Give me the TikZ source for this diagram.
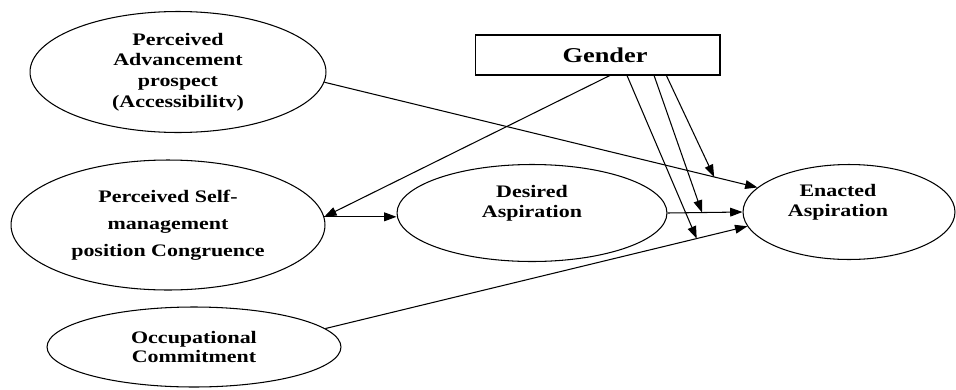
\documentclass[tikz,border=0pt]{standalone}
\usepackage{fontspec}
\setmainfont{Liberation Serif}[FakeStretch=1.25]
\usepackage{tikz}
\usetikzlibrary{shapes.geometric,positioning,calc}
\usetikzlibrary{arrows.meta}

\begin{document}
\begin{tikzpicture}[x=0.02cm,y=-0.02cm,>={Triangle[length=7pt,width=5pt]},line width=0.6pt,
	construct/.style={ellipse,draw,inner sep=0pt,align=center,font=\bfseries\fontsize{10}{11.7}\selectfont},
	inside/.style={align=center,font=\bfseries\fontsize{10}{11.3}\selectfont}]
	\useasboundingbox (0,0) rectangle (956,389);
	\node[construct,minimum width=5.92cm,minimum height=2.42cm] (adv) at (178,72) {Perceived\\Advancement\\prospect\\(Accessibilitv)};
	\node[construct,minimum width=6.28cm,minimum height=2.6cm,font=\bfseries\fontsize{10}{15.3}\selectfont] (selfm) at (168,225) {Perceived Self-\\management\\position Congruence};
	\node[construct,minimum width=5.88cm,minimum height=1.6cm,font=\bfseries\fontsize{10}{10.4}\selectfont] (occup) at (194,347) {Occupational\\Commitment};
	\node[construct,minimum width=5.4cm,minimum height=1.94cm,label={[inside,yshift=0.2cm]center:Desired\\Aspiration}] (desired) at (532,213) {};
	\node[construct,minimum width=4.24cm,minimum height=1.9cm,label={[inside,yshift=0.19cm,xshift=-0.22cm]center:Enacted\\Aspiration}] (enacted) at (849,212) {};
	\node[draw,minimum width=4.9cm,minimum height=0.8cm,font=\bfseries\fontsize{12}{14}\selectfont] (gender) at (597.5,55) {\hspace{0.3cm}Gender};
	\draw[->] (adv.-4) -- coordinate[pos=0.9] (modadv) (enacted.165);
	\draw[->] (desired.east) -- coordinate[pos=0.46] (moddes) (enacted.west);
	\draw[->] (occup.8) -- coordinate[pos=0.88] (modocc) (enacted.-172);
	\draw[->] ($(gender.south west)!0.55!(gender.south east)$) -- (selfm.3);
	\draw[->] (selfm.3) -- (desired.west |- selfm.3);
	\draw[->] ($(gender.south west)!0.62!(gender.south east)$) -- (modocc);
	\draw[->] ($(gender.south west)!0.73!(gender.south east)$) -- (moddes);
	\draw[->] ($(gender.south west)!0.78!(gender.south east)$) -- (modadv);
\end{tikzpicture}
\end{document}
